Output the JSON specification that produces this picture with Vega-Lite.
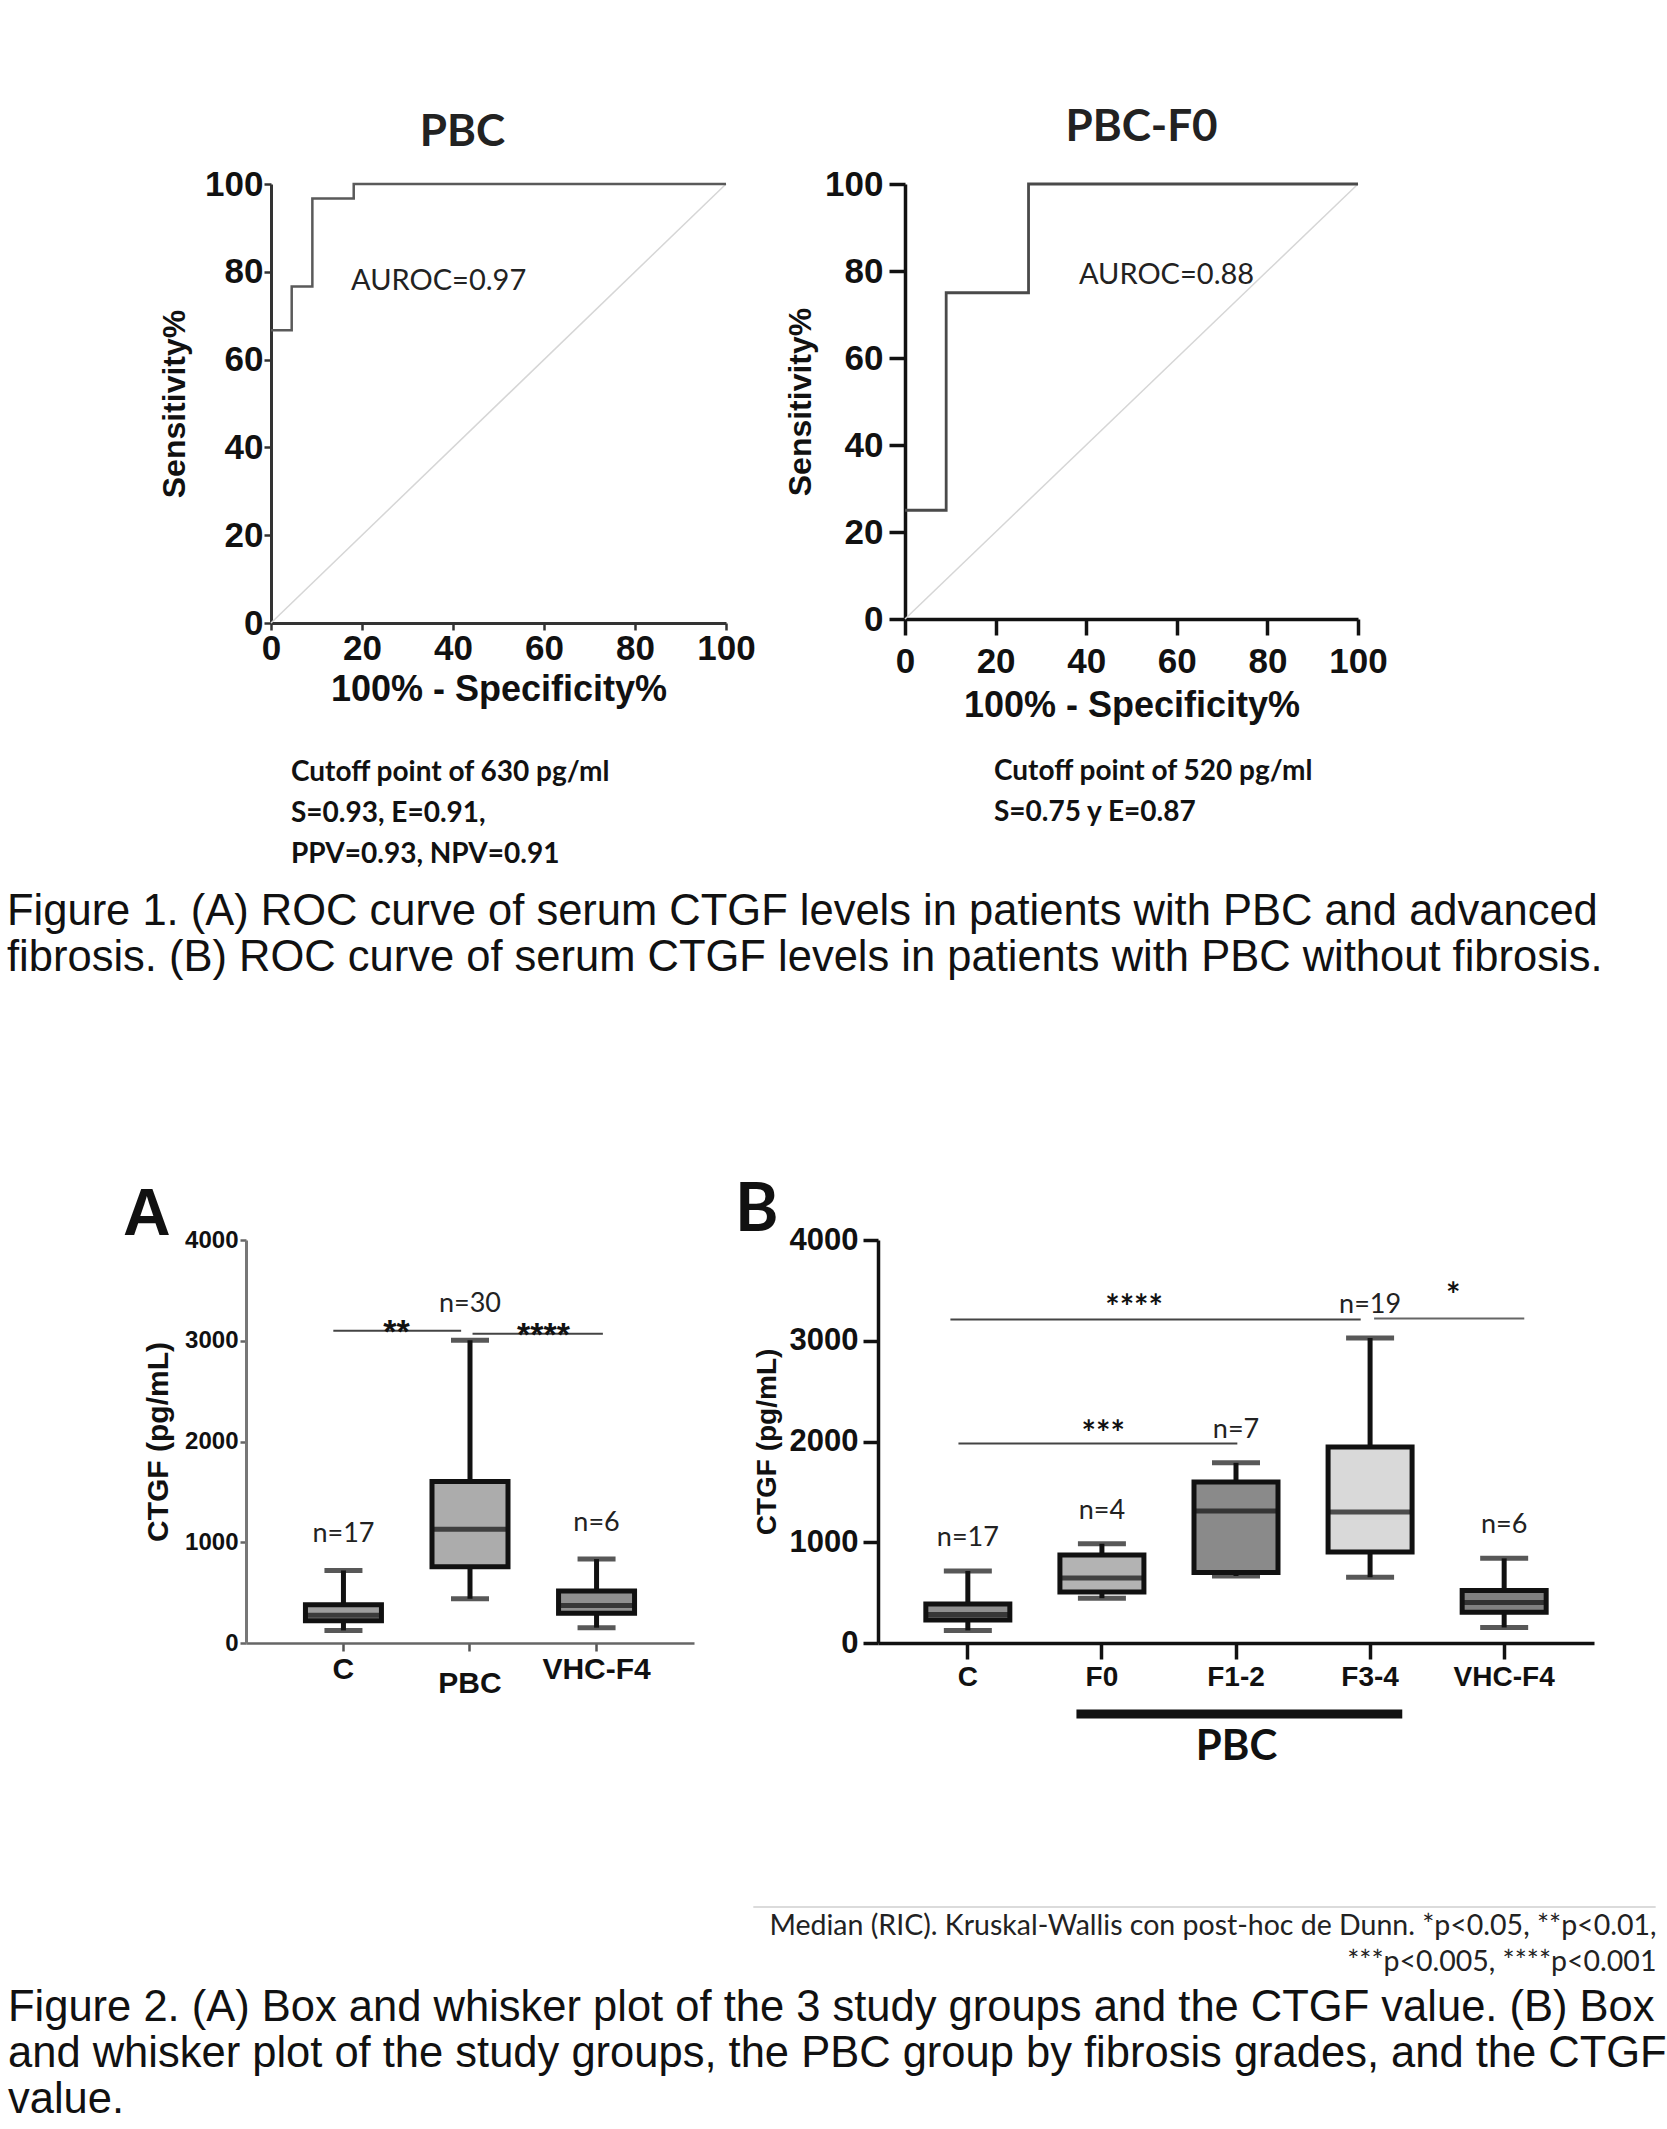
{
  "$schema": "https://vega.github.io/schema/vega-lite/v6.json",
  "background": "white",
  "padding": {"left": 7, "top": 106, "right": 5, "bottom": 5},
  "config": {
    "view": {"stroke": null},
    "axis": {"grid": false, "labelFlush": false, "labelOverlap": false, "labelColor": "#111", "titleColor": "#111"}
  },
  "datasets": {
    "chance": [{"fpr": 0, "tpr": 0, "fpr_end": 100, "tpr_end": 100}],
    "rocPBC": [
      {"fpr": 0, "tpr": 66.67},
      {"fpr": 4.55, "tpr": 76.67},
      {"fpr": 9.09, "tpr": 96.67},
      {"fpr": 18.18, "tpr": 100},
      {"fpr": 100, "tpr": 100}
    ],
    "rocF0": [
      {"fpr": 0, "tpr": 25},
      {"fpr": 9.09, "tpr": 75},
      {"fpr": 27.27, "tpr": 100},
      {"fpr": 100, "tpr": 100}
    ],
    "auroc": [
      {"curve": "PBC", "auroc": 0.97, "label": "AUROC=0.97"},
      {"curve": "PBC-F0", "auroc": 0.88, "label": "AUROC=0.88"}
    ],
    "boxA": [
      {"group": "C", "low": 125, "q1": 220, "median": 276, "q3": 379, "high": 720, "n": "n=17"},
      {"group": "PBC", "low": 439, "q1": 758, "median": 1129, "q3": 1602, "high": 3004, "n": "n=30"},
      {"group": "VHC-F4", "low": 152, "q1": 295, "median": 371, "q3": 515, "high": 833, "n": "n=6"}
    ],
    "boxB": [
      {"group": "C", "low": 125, "q1": 229, "median": 283, "q3": 387, "high": 715, "n": "n=17"},
      {"group": "F0", "low": 445, "q1": 507, "median": 644, "q3": 873, "high": 985, "n": "n=4"},
      {"group": "F1-2", "low": 665, "q1": 699, "median": 1310, "q3": 1597, "high": 1788, "n": "n=7"},
      {"group": "F3-4", "low": 653, "q1": 902, "median": 1301, "q3": 1946, "high": 3027, "n": "n=19"},
      {"group": "VHC-F4", "low": 154, "q1": 304, "median": 403, "q3": 520, "high": 840, "n": "n=6"}
    ],
    "sigA": [
      {"from": "C", "to": "PBC", "level": 3100, "stars": "**"},
      {"from": "PBC", "to": "VHC-F4", "level": 3070, "stars": "****"}
    ],
    "sigB": [
      {"from": "C", "to": "F3-4", "level": 3210, "stars": "****"},
      {"from": "C", "to": "F1-2", "level": 1979, "stars": "***"},
      {"from": "F3-4", "to": "VHC-F4", "level": 3222, "stars": "*"}
    ],
    "pbcGroup": [{"from": "F0", "to": "F3-4", "label": "PBC"}],
    "noteRule": [{"from": "C", "to": "VHC-F4"}]
  },
  "spacing": 199,
  "columns": 1,
  "align": "none",
  "concat": [
    {
      "title": {
        "text": ["Figure 1. (A)  ROC curve of serum CTGF levels in patients with PBC and advanced", "fibrosis. (B) ROC curve of serum CTGF levels in patients with PBC without fibrosis."],
        "orient": "bottom", "anchor": "start", "dx": -151.6, "offset": 22,
        "font": "Liberation Sans", "fontSize": 43.5, "fontWeight": "normal", "lineHeight": 46, "color": "#111"
      },
      "vconcat": [
        {
          "spacing": 28,
          "hconcat": [
            {
              "title": {
                "text": ["Cutoff point of 630 pg/ml", "S=0.93, E=0.91,", "PPV=0.93, NPV=0.91"],
                "orient": "bottom", "anchor": "start", "dx": 132.4, "offset": 51,
                "font": "Lato", "fontSize": 28, "fontWeight": "bold", "lineHeight": 41, "color": "#111"
              },
              "vconcat": [
                {
                  "width": 455,
                  "height": 439,
                  "title": {"text": "PBC", "font": "Lato", "fontSize": 44, "fontWeight": "bold", "color": "#222", "frame": "group", "anchor": "middle", "dx": -36, "offset": 12},
                  "layer": [
                    {
                      "data": {"name": "chance"},
                      "mark": {"type": "rule", "color": "#d6d6d6", "strokeWidth": 1.5},
                      "encoding": {
                        "x": {"field": "fpr", "type": "quantitative", "scale": {"domain": [0, 100], "nice": false},
                          "axis": {"values": [0, 20, 40, 60, 80, 100], "title": "100% - Specificity%", "titleFont": "Liberation Sans", "titleFontSize": 36, "titleFontWeight": "bold", "titlePadding": 6.5, "labelFont": "Liberation Sans", "labelFontSize": 35, "labelFontWeight": "bold", "labelPadding": 1, "tickSize": 7, "tickWidth": 2.5, "tickColor": "#333", "domainColor": "#333", "domainWidth": 3}},
                        "x2": {"field": "fpr_end"},
                        "y": {"field": "tpr", "type": "quantitative", "scale": {"domain": [0, 100], "nice": false},
                          "axis": {"values": [0, 20, 40, 60, 80, 100], "title": "Sensitivity%", "titleFont": "Liberation Sans", "titleFontSize": 32, "titleFontWeight": "bold", "titlePadding": 13, "labelFont": "Liberation Sans", "labelFontSize": 35, "labelFontWeight": "bold", "labelPadding": 1, "tickSize": 7, "tickWidth": 2.5, "tickColor": "#333", "domainColor": "#333", "domainWidth": 3}},
                        "y2": {"field": "tpr_end"}
                      }
                    },
                    {
                      "data": {"name": "rocPBC"},
                      "mark": {"type": "line", "interpolate": "step-after", "color": "#5a5a5a", "strokeWidth": 2.5},
                      "encoding": {"x": {"field": "fpr", "type": "quantitative"}, "y": {"field": "tpr", "type": "quantitative"}}
                    },
                    {
                      "data": {"name": "auroc"},
                      "transform": [{"filter": "datum.curve === 'PBC'"}],
                      "mark": {"type": "text", "align": "left", "baseline": "middle", "font": "Lato", "fontSize": 29, "color": "#222"},
                      "encoding": {"x": {"datum": 17.6}, "y": {"datum": 78}, "text": {"field": "label"}}
                    }
                  ]
                }
              ]
            },
            {
              "title": {
                "text": ["Cutoff point of 520 pg/ml", "S=0.75 y E=0.87"],
                "orient": "bottom", "anchor": "start", "dx": 209.4, "offset": 34,
                "font": "Lato", "fontSize": 28, "fontWeight": "bold", "lineHeight": 41, "color": "#111"
              },
              "vconcat": [
                {
                  "width": 453,
                  "height": 435,
                  "title": {"text": "PBC-F0", "font": "Lato", "fontSize": 44, "fontWeight": "bold", "color": "#222", "frame": "group", "anchor": "middle", "dx": 10, "offset": 17},
                  "layer": [
                    {
                      "data": {"name": "chance"},
                      "mark": {"type": "rule", "color": "#d6d6d6", "strokeWidth": 1.5},
                      "encoding": {
                        "x": {"field": "fpr", "type": "quantitative", "scale": {"domain": [0, 100], "nice": false},
                          "axis": {"values": [0, 20, 40, 60, 80, 100], "title": "100% - Specificity%", "titleFont": "Liberation Sans", "titleFontSize": 36, "titleFontWeight": "bold", "titlePadding": 9.5, "labelFont": "Liberation Sans", "labelFontSize": 35, "labelFontWeight": "bold", "labelPadding": 9, "tickSize": 16, "tickWidth": 3.5, "tickColor": "#111", "domainColor": "#111", "domainWidth": 3.5}},
                        "x2": {"field": "fpr_end"},
                        "y": {"field": "tpr", "type": "quantitative", "scale": {"domain": [0, 100], "nice": false},
                          "axis": {"values": [0, 20, 40, 60, 80, 100], "title": "Sensitivity%", "titleFont": "Liberation Sans", "titleFontSize": 32, "titleFontWeight": "bold", "titlePadding": 7, "labelFont": "Liberation Sans", "labelFontSize": 35, "labelFontWeight": "bold", "labelPadding": 6, "tickSize": 16, "tickWidth": 3.5, "tickColor": "#111", "domainColor": "#111", "domainWidth": 3.5}},
                        "y2": {"field": "tpr_end"}
                      }
                    },
                    {
                      "data": {"name": "rocF0"},
                      "mark": {"type": "line", "interpolate": "step-after", "color": "#4a4a4a", "strokeWidth": 2.8},
                      "encoding": {"x": {"field": "fpr", "type": "quantitative"}, "y": {"field": "tpr", "type": "quantitative"}}
                    },
                    {
                      "data": {"name": "auroc"},
                      "transform": [{"filter": "datum.curve === 'PBC-F0'"}],
                      "mark": {"type": "text", "align": "left", "baseline": "middle", "font": "Lato", "fontSize": 29, "color": "#222"},
                      "encoding": {"x": {"datum": 38.4}, "y": {"datum": 79}, "text": {"field": "label"}}
                    }
                  ]
                }
              ]
            }
          ]
        }
      ]
    },
    {
      "title": {
        "text": ["Figure 2. (A) Box and whisker plot of the 3 study groups and the CTGF value. (B) Box", "and whisker plot of the study groups, the PBC group by fibrosis grades, and the CTGF", "value."],
        "orient": "bottom", "anchor": "start", "dx": -115, "offset": 11,
        "font": "Liberation Sans", "fontSize": 43.5, "fontWeight": "normal", "lineHeight": 46, "color": "#111"
      },
      "vconcat": [
        {
          "spacing": 16,
          "resolve": {"scale": {"color": "independent"}},
          "title": {
            "text": ["Median (RIC). Kruskal-Wallis con post-hoc de Dunn. *p<0.05, **p<0.01,", "***p<0.005, ****p<0.001"],
            "orient": "bottom", "anchor": "end", "dx": 0, "offset": 4,
            "font": "Lato", "fontSize": 28.5, "fontWeight": "normal", "lineHeight": 36, "color": "#222"
          },
          "hconcat": [
            {
              "width": 423,
              "height": 403,
              "title": {"text": "A", "font": "Liberation Sans", "fontSize": 66, "fontWeight": "bold", "color": "#111", "frame": "group", "anchor": "start", "dx": -148, "offset": -21},
              "data": {"name": "boxA"},
              "encoding": {
                "x": {"field": "group", "type": "nominal",
                  "scale": {"domain": ["C", "PBC", "VHC-F4"], "paddingInner": 0, "paddingOuter": 0.27, "range": [-25, 423]},
                  "axis": {"title": null, "labelAngle": 0, "labelFont": "Liberation Sans", "labelFontSize": 30, "labelFontWeight": "bold", "labelPadding": {"condition": {"test": "datum.value === 'PBC'", "value": 17}, "value": 3}, "tickSize": 8, "tickWidth": 2.5, "tickColor": "#555", "domainColor": "#666", "domainWidth": 2.5}}
              },
              "layer": [
                {
                  "mark": {"type": "rule", "color": "#111", "strokeWidth": 5},
                  "encoding": {
                    "y": {"field": "low", "type": "quantitative", "scale": {"domain": [0, 4000], "nice": false},
                      "axis": {"values": [0, 1000, 2000, 3000, 4000], "format": "d", "offset": 25, "title": "CTGF (pg/mL)", "titleFont": "Liberation Sans", "titleFontSize": 30, "titleFontWeight": "bold", "titlePadding": 11.5, "labelFont": "Liberation Sans", "labelFontSize": 24, "labelFontWeight": "bold", "labelPadding": 2, "tickSize": 6, "tickWidth": 2.5, "tickColor": "#666", "domainColor": "#777", "domainWidth": 3}},
                    "y2": {"field": "high"}
                  }
                },
                {
                  "mark": {"type": "bar", "width": 76, "stroke": "#111", "strokeWidth": 5},
                  "encoding": {
                    "y": {"field": "q1", "type": "quantitative"},
                    "y2": {"field": "q3"},
                    "color": {"field": "group", "type": "nominal", "scale": {"domain": ["C", "PBC", "VHC-F4"], "range": ["#9d9d9d", "#acacac", "#8f8f8f"]}, "legend": null}
                  }
                },
                {
                  "mark": {"type": "tick", "size": 76, "thickness": 5, "color": "#111"},
                  "encoding": {"y": {"field": "median", "type": "quantitative"}}
                },
                {
                  "mark": {"type": "tick", "size": 38, "thickness": 5, "color": "#111"},
                  "encoding": {"y": {"field": "low", "type": "quantitative"}}
                },
                {
                  "mark": {"type": "tick", "size": 38, "thickness": 5, "color": "#111"},
                  "encoding": {"y": {"field": "high", "type": "quantitative"}}
                },
                {
                  "mark": {"type": "text", "font": "Lato", "fontSize": 27, "color": "#222", "baseline": "middle", "dy": -36},
                  "encoding": {"y": {"field": "high", "type": "quantitative"}, "text": {"field": "n"}}
                },
                {
                  "data": {"name": "sigA"},
                  "transform": [{"filter": "datum.stars === '**'"}],
                  "layer": [
                    {
                      "mark": {"type": "rule", "color": "#444", "strokeWidth": 2},
                      "encoding": {"x": {"field": "from", "type": "nominal", "bandPosition": 0.42}, "x2": {"field": "to", "bandPosition": 0.43}, "y": {"field": "level", "type": "quantitative"}}
                    },
                    {
                      "mark": {"type": "text", "font": "Liberation Sans", "fontSize": 34, "fontWeight": "bold", "baseline": "alphabetic", "dy": 12, "color": "#111"},
                      "encoding": {"x": {"field": "from", "type": "nominal", "bandPosition": 0.92}, "y": {"field": "level", "type": "quantitative"}, "text": {"field": "stars"}}
                    }
                  ]
                },
                {
                  "data": {"name": "sigA"},
                  "transform": [{"filter": "datum.stars === '****'"}],
                  "layer": [
                    {
                      "mark": {"type": "rule", "color": "#444", "strokeWidth": 2},
                      "encoding": {"x": {"field": "from", "type": "nominal", "bandPosition": 0.52}, "x2": {"field": "to", "bandPosition": 0.55}, "y": {"field": "level", "type": "quantitative"}}
                    },
                    {
                      "mark": {"type": "text", "font": "Liberation Sans", "fontSize": 34, "fontWeight": "bold", "baseline": "alphabetic", "dy": 12, "color": "#111"},
                      "encoding": {"x": {"field": "from", "type": "nominal", "bandPosition": 1.08}, "y": {"field": "level", "type": "quantitative"}, "text": {"field": "stars"}}
                    }
                  ]
                }
              ]
            },
            {
              "width": 716,
              "height": 403,
              "title": {"text": "B", "font": "Lato", "fontSize": 66, "fontWeight": "bold", "color": "#111", "frame": "group", "anchor": "start", "dx": -143, "offset": -21},
              "data": {"name": "boxB"},
              "encoding": {
                "x": {"field": "group", "type": "nominal",
                  "scale": {"domain": ["C", "F0", "F1-2", "F3-4", "VHC-F4"], "paddingInner": 0, "paddingOuter": 0.17},
                  "axis": {"title": "PBC", "titleFont": "Lato", "titleFontSize": 42, "titleFontWeight": "bold", "titlePadding": 35, "labelAngle": 0, "labelFont": "Liberation Sans Narrow, Liberation Sans", "labelFontSize": 28, "labelFontWeight": "bold", "labelPadding": 4, "tickSize": 16, "tickWidth": 3.5, "tickColor": "#111", "domainColor": "#111", "domainWidth": 3.5}}
              },
              "layer": [
                {
                  "mark": {"type": "rule", "color": "#111", "strokeWidth": 5},
                  "encoding": {
                    "y": {"field": "low", "type": "quantitative", "scale": {"domain": [0, 4000], "nice": false},
                      "axis": {"values": [0, 1000, 2000, 3000, 4000], "format": "d", "title": "CTGF (pg/mL)", "titleFont": "Liberation Sans", "titleFontSize": 28, "titleFontWeight": "bold", "titlePadding": 8, "labelFont": "Liberation Sans Narrow, Liberation Sans", "labelFontSize": 31, "labelFontWeight": "bold", "labelPadding": 5, "tickSize": 15, "tickWidth": 3.5, "tickColor": "#111", "domainColor": "#111", "domainWidth": 3.5}},
                    "y2": {"field": "high"}
                  }
                },
                {
                  "mark": {"type": "bar", "width": 84, "stroke": "#111", "strokeWidth": 5},
                  "encoding": {
                    "y": {"field": "q1", "type": "quantitative"},
                    "y2": {"field": "q3"},
                    "color": {"field": "group", "type": "nominal", "scale": {"domain": ["C", "F0", "F1-2", "F3-4", "VHC-F4"], "range": ["#8f8f8f", "#b3b3b3", "#8a8a8a", "#d9d9d9", "#808080"]}, "legend": null}
                  }
                },
                {
                  "mark": {"type": "tick", "size": 84, "thickness": 5, "color": "#111"},
                  "encoding": {"y": {"field": "median", "type": "quantitative"}}
                },
                {
                  "mark": {"type": "tick", "size": 48, "thickness": 5, "color": "#111"},
                  "encoding": {"y": {"field": "low", "type": "quantitative"}}
                },
                {
                  "mark": {"type": "tick", "size": 48, "thickness": 5, "color": "#111"},
                  "encoding": {"y": {"field": "high", "type": "quantitative"}}
                },
                {
                  "mark": {"type": "text", "font": "Lato", "fontSize": 27, "color": "#222", "baseline": "middle", "dy": -33},
                  "encoding": {"y": {"field": "high", "type": "quantitative"}, "text": {"field": "n"}}
                },
                {
                  "data": {"name": "sigB"},
                  "transform": [{"filter": "datum.stars === '****'"}],
                  "layer": [
                    {
                      "mark": {"type": "rule", "color": "#444", "strokeWidth": 2},
                      "encoding": {"x": {"field": "from", "type": "nominal", "bandPosition": 0.37}, "x2": {"field": "to", "bandPosition": 0.43}, "y": {"field": "level", "type": "quantitative"}}
                    },
                    {
                      "mark": {"type": "text", "font": "Lato", "fontSize": 34, "fontWeight": "bold", "baseline": "alphabetic", "dy": -1, "color": "#111"},
                      "encoding": {"x": {"field": "from", "type": "nominal", "bandPosition": 1.74}, "y": {"field": "level", "type": "quantitative"}, "text": {"field": "stars"}}
                    }
                  ]
                },
                {
                  "data": {"name": "sigB"},
                  "transform": [{"filter": "datum.stars === '***'"}],
                  "layer": [
                    {
                      "mark": {"type": "rule", "color": "#444", "strokeWidth": 2},
                      "encoding": {"x": {"field": "from", "type": "nominal", "bandPosition": 0.43}, "x2": {"field": "to", "bandPosition": 0.51}, "y": {"field": "level", "type": "quantitative"}}
                    },
                    {
                      "mark": {"type": "text", "font": "Lato", "fontSize": 34, "fontWeight": "bold", "baseline": "alphabetic", "dy": 1, "color": "#111"},
                      "encoding": {"x": {"field": "from", "type": "nominal", "bandPosition": 1.51}, "y": {"field": "level", "type": "quantitative"}, "text": {"field": "stars"}}
                    }
                  ]
                },
                {
                  "data": {"name": "sigB"},
                  "transform": [{"filter": "datum.stars === '*'"}],
                  "layer": [
                    {
                      "mark": {"type": "rule", "color": "#666", "strokeWidth": 2},
                      "encoding": {"x": {"field": "from", "type": "nominal", "bandPosition": 0.53}, "x2": {"field": "to", "bandPosition": 0.65}, "y": {"field": "level", "type": "quantitative"}}
                    },
                    {
                      "mark": {"type": "text", "font": "Lato", "fontSize": 34, "fontWeight": "bold", "baseline": "alphabetic", "dy": -11, "color": "#111"},
                      "encoding": {"x": {"field": "from", "type": "nominal", "bandPosition": 1.12}, "y": {"field": "level", "type": "quantitative"}, "text": {"field": "stars"}}
                    }
                  ]
                },
                {
                  "data": {"name": "pbcGroup"},
                  "mark": {"type": "rule", "color": "#111", "strokeWidth": 9},
                  "encoding": {"x": {"field": "from", "type": "nominal", "bandPosition": 0.31}, "x2": {"field": "to", "bandPosition": 0.74}, "y": {"datum": -705}}
                },
                {
                  "data": {"name": "noteRule"},
                  "mark": {"type": "rule", "color": "#cfcfcf", "strokeWidth": 1.5},
                  "encoding": {"x": {"field": "from", "type": "nominal", "bandPosition": -1.1}, "x2": {"field": "to", "bandPosition": 1.63}, "y": {"datum": -2620}}
                }
              ]
            }
          ]
        }
      ]
    }
  ]
}
